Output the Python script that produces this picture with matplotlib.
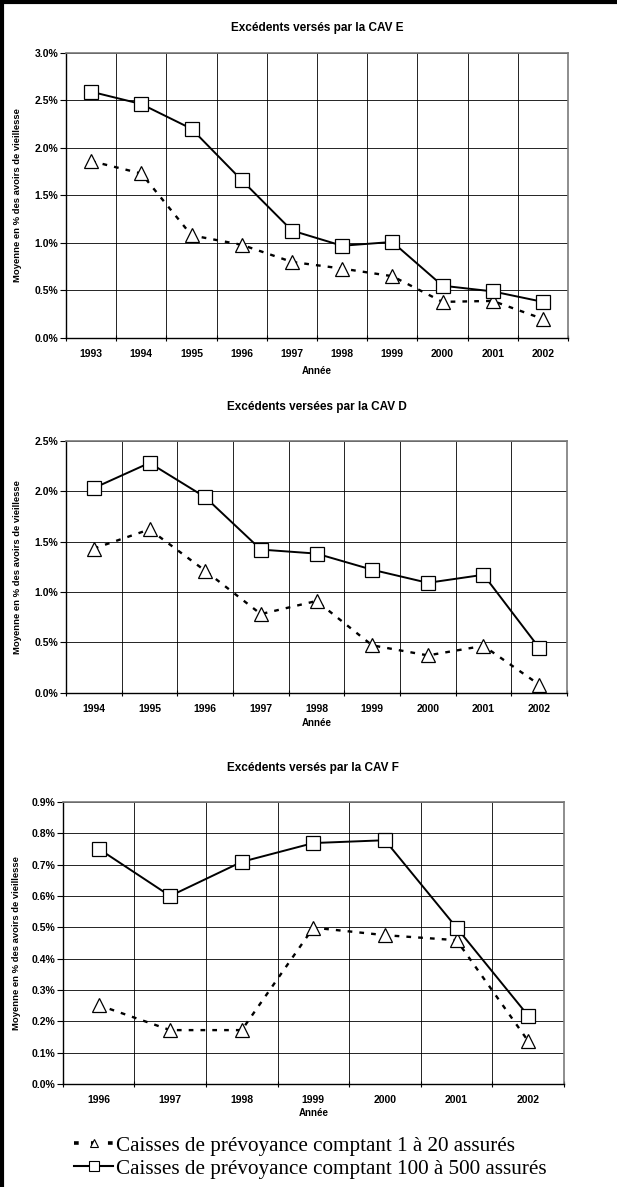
import matplotlib.pyplot as plt
from matplotlib.ticker import FuncFormatter, MultipleLocator
from matplotlib.lines import Line2D
import numpy as np

plt.rcParams['font.family'] = ['Liberation Sans', 'DejaVu Sans']
plt.rcParams['font.weight'] = 'bold'

# CAV E
years_e = [1993, 1994, 1995, 1996, 1997, 1998, 1999, 2000, 2001, 2002]
small_e = [1.86, 1.73, 1.08, 0.98, 0.80, 0.73, 0.65, 0.38, 0.39, 0.20]
large_e = [2.59, 2.46, 2.20, 1.66, 1.13, 0.97, 1.01, 0.55, 0.49, 0.38]

# CAV D
years_d = [1994, 1995, 1996, 1997, 1998, 1999, 2000, 2001, 2002]
small_d = [1.43, 1.62, 1.21, 0.78, 0.91, 0.47, 0.37, 0.465, 0.08]
large_d = [2.03, 2.28, 1.94, 1.42, 1.38, 1.22, 1.09, 1.17, 0.445]

# CAV F
years_f = [1996, 1997, 1998, 1999, 2000, 2001, 2002]
small_f = [0.252, 0.172, 0.172, 0.499, 0.475, 0.459, 0.137]
large_f = [0.751, 0.600, 0.709, 0.769, 0.778, 0.499, 0.218]

titles = ["Excédents versés par la CAV E",
          "Excédents versées par la CAV D",
          "Excédents versés par la CAV F"]
ylabel = "Moyenne en % des avoirs de vieillesse"
xlabel = "Année"
legend_labels = ["Caisses de prévoyance comptant 1 à 20 assurés",
                 "Caisses de prévoyance comptant 100 à 500 assurés"]

W, H = 617.0, 1187.0
fig = plt.figure(figsize=(W / 100, H / 100), dpi=100)

small_style = dict(color='black', lw=1.7, ls=(0, (2.0, 3.0)), marker='^', ms=10,
                   mfc='white', mec='black', mew=0.9)
large_style = dict(color='black', lw=1.4, marker='s', ms=9.5,
                   mfc='white', mec='black', mew=0.9)


def draw_chart(rect, years, small, large, ymax, ystep, title, title_y, xlab_y, ylab_x):
    # rect = (left, right, top, bottom) in pixels
    ax = fig.add_axes([rect[0] / W, 1 - rect[3] / H, (rect[1] - rect[0]) / W, (rect[3] - rect[2]) / H])
    x = np.arange(len(years))
    ax.plot(x, small, zorder=3, **small_style)
    ax.plot(x, large, zorder=4, **large_style)
    ax.set_xlim(-0.5, len(years) - 0.5)
    ax.set_ylim(0, ymax)
    ax.set_xticks(x)
    ax.set_xticklabels([str(y) for y in years], fontsize=7.5)
    ax.set_xticks(np.arange(len(years) + 1) - 0.5, minor=True)
    ax.tick_params(axis='x', which='major', length=0, pad=8)
    ax.tick_params(axis='x', which='minor', length=5, direction='inout', width=0.8)
    ax.yaxis.set_major_locator(MultipleLocator(ystep))
    ax.yaxis.set_major_formatter(FuncFormatter(lambda v, p: '%.1f%%' % v))
    ax.tick_params(axis='y', length=4, pad=1.5, labelsize=7.5, width=0.8)
    ax.grid(True, which='minor', axis='x', color='black', lw=0.6)
    ax.grid(True, which='major', axis='y', color='black', lw=0.6)
    ax.set_axisbelow(True)
    for s in ['top', 'right']:
        ax.spines[s].set_color('#7a7a7a')
        ax.spines[s].set_linewidth(1.2)
    for s in ['left', 'bottom']:
        ax.spines[s].set_linewidth(1.0)
    cx = (rect[0] + rect[1]) / 2 / W
    fig.text(cx, 1 - title_y / H, title, ha='center', va='center', fontsize=8.5)
    fig.text(cx, 1 - xlab_y / H, xlabel, ha='center', va='center', fontsize=7)
    fig.text(ylab_x / W, 1 - (rect[2] + rect[3]) / 2 / H, ylabel, ha='center', va='center',
             rotation=90, fontsize=6.8)
    return ax


draw_chart((66, 568, 52.7, 338), years_e, small_e, large_e, 3.0, 0.5, titles[0], 28, 371, 18)
draw_chart((66, 567, 440.7, 692.7), years_d, small_d, large_d, 2.5, 0.5, titles[1], 407, 723, 18)
draw_chart((62.7, 564, 802, 1084), years_f, small_f, large_f, 0.9, 0.1, titles[2], 768, 1113, 16.5)

handles = [Line2D([], [], color='black', lw=2.6, ls=(0, (1.3, 3.4)), marker='^', ms=6,
                  mfc='white', mec='black', mew=0.8),
           Line2D([], [], color='black', lw=1.5, marker='s', ms=7,
                  mfc='white', mec='black', mew=0.8)]
fig.legend(handles, legend_labels, loc='upper left', bbox_to_anchor=(74 / W, 1 - 1136 / H),
           frameon=False, prop={'family': 'Liberation Serif', 'size': 15.2, 'weight': 'normal'},
           handlelength=1.85, handletextpad=0.15, labelspacing=0.15, borderpad=0, borderaxespad=0)

# page frame (left and top)
fig.add_artist(Line2D([2 / W, 2 / W], [0, 1], transform=fig.transFigure, color='black', lw=3))
fig.add_artist(Line2D([0, 1], [1 - 2 / H, 1 - 2 / H], transform=fig.transFigure, color='black', lw=3))

fig.savefig('out.png', dpi=100)
